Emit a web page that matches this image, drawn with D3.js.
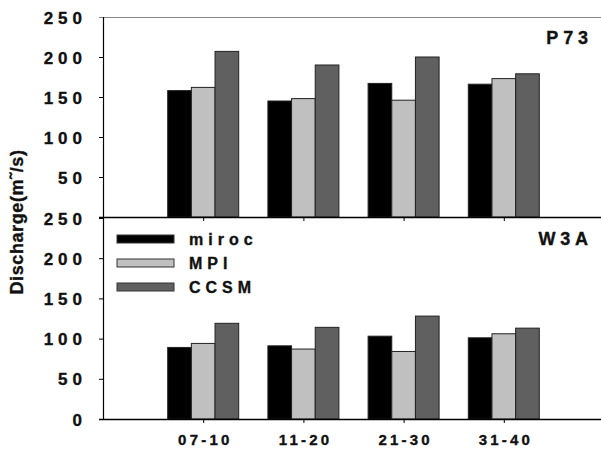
<html>

<head>
<script src="https://d3js.org/d3.v7.min.js"></script>

<style>

    body {
        margin: 0;
        background: white;
    }

    text {
        font-family: "Liberation Sans", Arial, sans-serif;
        font-weight: bold;
        fill: #111;
        stroke: #111;
        stroke-width: 0.35px;
    }

    .bar {
        stroke: #222;
        stroke-width: 1;
    }

</style>

</head>

<body>

    <svg id='chart' width=601 height=451></svg>

<script>

    let periods = ['07-10', '11-20', '21-30', '31-40'];
    let models = ['miroc', 'MPI', 'CCSM'];
    let colorsList = ['#000000', '#c0c0c0', '#606060'];

    // discharge per model, one value per period
    let p73 = {
        miroc: [158, 145, 167, 166],
        MPI:   [162, 148, 146, 173],
        CCSM:  [207, 190, 200, 179]
    };
    let w3a = {
        miroc: [89, 91, 103, 101],
        MPI:   [94, 87, 84, 106],
        CCSM:  [119, 114, 128, 113]
    };

    let topTicks = [50, 100, 150, 200, 250];
    let bottomTicks = [0, 50, 100, 150, 200, 250];

    let svg = d3.select('#chart');

    let colors = d3.scaleOrdinal().domain(models).range(colorsList);

    // x positions: periods sit at 1..4 on a 0..5 linear axis
    let x = d3.scaleLinear()
        .domain([0, 5])
        .range([103, 604]);

    let xSub = d3.scaleBand()
        .domain(models)
        .range([-35.5, 35.5])
        .padding(0);

    let yTop = d3.scaleLinear().domain([0, 250]).range([217, 17]);
    let yBot = d3.scaleLinear().domain([0, 250]).range([419, 218]);

    function drawPanel(data, y, ticks, name, showX) {

        let g = svg.append('g');

        let rows = [];
        models.forEach(m => data[m].forEach((v, i) => rows.push({ model: m, i: i, value: v })));

        g.selectAll('.bar')
            .data(rows)
          .enter()
            .append('rect')
            .classed('bar', true)
            .attr('x', d => x(d.i + 1) + xSub(d.model))
            .attr('width', xSub.bandwidth())
            .attr('y', d => y(d.value))
            .attr('height', d => y(0) - y(d.value))
            .attr('fill', d => colors(d.model));

        // y axis ticks and labels
        let yAxis = d3.axisLeft(y)
            .tickValues(ticks)
            .tickSize(4)
            .tickFormat(d3.format('d'));

        let ya = g.append('g')
            .attr('transform', 'translate(' + x(0) + ',0)')
            .call(yAxis);
        ya.select('.domain').remove();
        ya.selectAll('line').attr('stroke', '#000');
        ya.selectAll('text')
            .attr('x', -21 + 5)
            .attr('dy', '0.36em')
            .style('font-size', '17px')
            .style('letter-spacing', '5px');

        // x axis along the baseline
        let xAxis = d3.axisBottom(x)
            .tickValues([1, 2, 3, 4])
            .tickSize(4)
            .tickFormat(d => showX ? periods[d - 1] : '');

        let xa = g.append('g')
            .attr('transform', 'translate(0,' + y(0) + ')')
            .call(xAxis);
        xa.select('.domain')
            .attr('d', 'M' + (x(0) - 4) + ',0.5H' + x(5))
            .attr('stroke', '#000')
            .attr('stroke-width', 1.5);
        xa.selectAll('line').attr('stroke', '#000');
        xa.selectAll('text')
            .attr('y', 26)
            .attr('dy', 0)
            .attr('dx', '1.6px')
            .style('font-size', '15px')
            .style('letter-spacing', '3.2px');

        g.append('text')
            .attr('x', 588 + 4.8)
            .attr('y', y(250) + 26.5)
            .attr('text-anchor', 'end')
            .style('font-size', '18px')
            .style('letter-spacing', '4.8px')
            .text(name);

        return g;
    }

    drawPanel(p73, yTop, topTicks, 'P73', false);
    drawPanel(w3a, yBot, bottomTicks, 'W3A', true);

    // top frame line and left axis
    svg.append('line')
        .attr('x1', x(0) - 4).attr('x2', 601)
        .attr('y1', yTop(250) + 0.5).attr('y2', yTop(250) + 0.5)
        .attr('stroke', '#888')
        .attr('stroke-width', 1.2);

    svg.append('line')
        .attr('x1', x(0) + 0.5).attr('x2', x(0) + 0.5)
        .attr('y1', yTop(250)).attr('y2', yBot(0) + 1)
        .attr('stroke', '#000')
        .attr('stroke-width', 1.2);

    // legend
    let legend = svg.append('g')
        .attr('transform', 'translate(117,239)');

    let item = legend.selectAll('.item')
        .data(models)
      .enter()
        .append('g')
        .attr('transform', (d, i) => 'translate(0,' + i * 24 + ')');

    item.append('rect')
        .attr('x', 0)
        .attr('y', -4)
        .attr('width', 57)
        .attr('height', 8)
        .attr('fill', d => colors(d))
        .attr('stroke', '#333')
        .attr('stroke-width', 1);

    item.append('text')
        .attr('x', 72)
        .attr('y', 6)
        .style('font-size', '16px')
        .style('letter-spacing', '5px')
        .text(d => d);

    // y axis title
    svg.append('text')
        .attr('transform', 'translate(23,222) rotate(-90)')
        .attr('text-anchor', 'middle')
        .style('font-size', '18px')
        .style('letter-spacing', '0.6px')
        .text('Discharge(m\u02DC/s)');

</script>

</body>

</html>
